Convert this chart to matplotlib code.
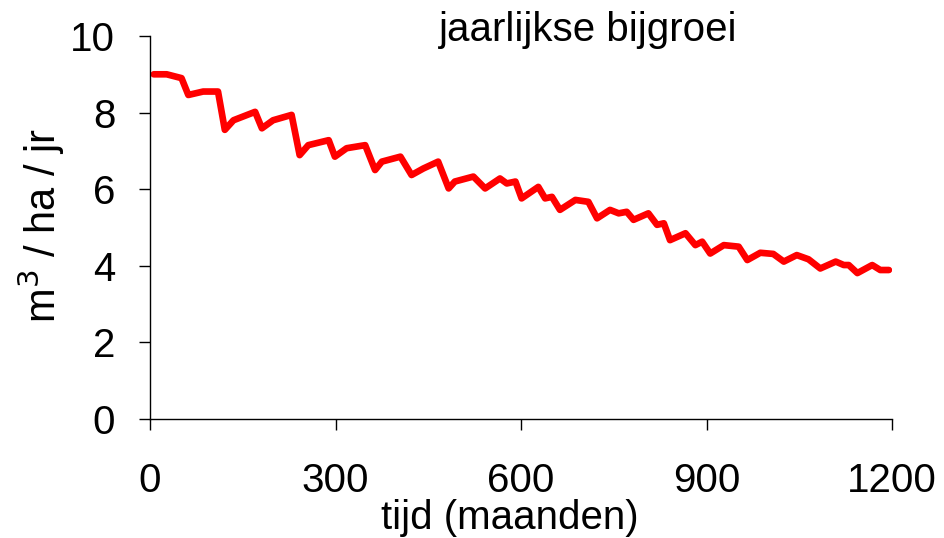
import matplotlib
matplotlib.use("Agg")
import matplotlib.pyplot as plt

plt.rcParams['font.family'] = ['Liberation Sans', 'DejaVu Sans']

# maanden en jaarlijkse bijgroei (m3/ha/jr)
months = [6, 27, 51, 62, 86, 110, 121, 135, 170, 181,
          199, 229, 242, 256, 289, 299, 318, 348, 364, 375,
          405, 423, 442, 466, 483, 493, 523, 542, 566, 577,
          591, 601, 628, 639, 650, 663, 688, 709, 723, 744,
          758, 771, 782, 806, 820, 831, 841, 866, 882, 893,
          906, 928, 952, 966, 987, 1008, 1025, 1046, 1065, 1084,
          1109, 1122, 1130, 1144, 1168, 1181, 1195]
growth = [9.0, 9.0, 8.9, 8.46, 8.55, 8.55, 7.55, 7.8, 8.02, 7.59,
          7.8, 7.94, 6.89, 7.15, 7.28, 6.85, 7.07, 7.15, 6.5, 6.72,
          6.85, 6.37, 6.54, 6.72, 6.02, 6.2, 6.33, 6.02, 6.28, 6.15,
          6.2, 5.76, 6.06, 5.76, 5.8, 5.46, 5.72, 5.67, 5.24, 5.46,
          5.37, 5.41, 5.2, 5.37, 5.07, 5.11, 4.67, 4.85, 4.54, 4.63,
          4.32, 4.54, 4.5, 4.15, 4.34, 4.31, 4.11, 4.28, 4.17, 3.93,
          4.11, 4.02, 4.02, 3.81, 4.02, 3.89, 3.89]
x_ticks = [0, 300, 600, 900, 1200]
y_ticks = [0, 2, 4, 6, 8, 10]

fig = plt.figure(figsize=(9.44, 5.38), dpi=100)
ax = fig.add_axes([150 / 944, 1 - 419 / 538, 742 / 944, 383 / 538])

ax.plot(months, growth, color='#ff0000', linewidth=4.8,
        solid_joinstyle='round', solid_capstyle='round')

ax.set_xlim(0, 1200)
ax.set_ylim(0, 10)
ax.set_xticks(x_ticks)
ax.set_yticks(y_ticks)
for s in ['top', 'right']:
    ax.spines[s].set_visible(False)
for s in ['left', 'bottom']:
    ax.spines[s].set_linewidth(1.0)
    ax.spines[s].set_clip_on(False)

ax.tick_params(axis='x', direction='out', length=8, width=1, pad=23, labelsize=29)
ax.tick_params(axis='y', direction='out', length=8, width=1, pad=17, labelsize=29)

ax.set_xlabel('tijd (maanden)', fontsize=29, va='center')
ax.xaxis.set_label_coords((510 - 150) / 742, -(518 - 419) / 383)
ax.set_ylabel('m$^3$ / ha / jr', fontsize=30, va='center')
ax.yaxis.set_label_coords(-(150 - 41) / 742, (419 - 226) / 383)

ax.text((588 - 150) / 742, (419 - 30) / 383, 'jaarlijkse bijgroei',
        transform=ax.transAxes, ha='center', va='center', fontsize=29)

fig.savefig('out.png', dpi=100)
